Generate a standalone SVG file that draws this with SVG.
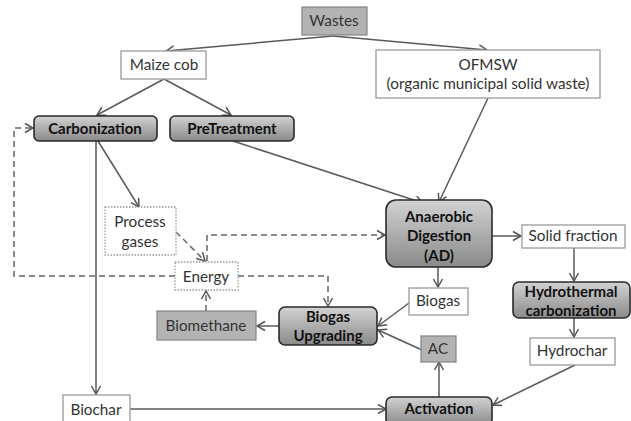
<svg xmlns="http://www.w3.org/2000/svg" width="631" height="421" viewBox="0 0 631 421">
<style>
.t{font-family:Lato,"Liberation Sans",sans-serif;font-size:15.3px;fill:#333;text-anchor:middle}
.b{font-family:Lato,"Liberation Sans",sans-serif;font-size:15px;font-weight:bold;fill:#111;text-anchor:middle}
.w{fill:#fff;stroke:#9a9a9a;stroke-width:1.3}
.g{fill:#b3b3b3;stroke:#8a8a8a;stroke-width:1.3}
.d{fill:#fff;stroke:#9a9a9a;stroke-width:1.3;stroke-dasharray:1.5 1.5}
.p{fill:url(#grad);stroke:#2a2a2a;stroke-width:1.6}
.c{fill:none;stroke:#5a5a5a;stroke-width:1.5}
.dc{fill:none;stroke:#666;stroke-width:1.5;stroke-dasharray:6 4}
</style>
<defs>
<linearGradient id="grad" x1="0" y1="0" x2="0" y2="1">
<stop offset="0" stop-color="#d2d2d2"/>
<stop offset="1" stop-color="#8a8a8a"/>
</linearGradient>
<marker id="a" markerUnits="userSpaceOnUse" markerWidth="12" markerHeight="12" viewBox="0 0 12 12" refX="10" refY="6" orient="auto">
<path d="M2,1.5 L10,6 L2,10.5" fill="none" stroke="#555" stroke-width="1.5"/>
</marker>
</defs>
<g id="connectors">
<path class="c" d="M333,36 L166,51" marker-end="url(#a)"/>
<path class="c" d="M333,36 L487,50" marker-end="url(#a)"/>
<path class="c" d="M164,79 L97,115" marker-end="url(#a)"/>
<path class="c" d="M164,79 L231,115" marker-end="url(#a)"/>
<path class="c" d="M233,141 L423,203" marker-end="url(#a)"/>
<path class="c" d="M488,98 L439,202" marker-end="url(#a)"/>
<path class="c" d="M98,141 L139,207" marker-end="url(#a)"/>
<path class="c" d="M96,141 L96,394" marker-end="url(#a)"/>
<path class="dc" d="M176,232 L205,261" marker-end="url(#a)"/>
<path class="dc" d="M207,261 L207,235 L385,235" marker-end="url(#a)"/>
<path class="dc" d="M175,276 L14,276 L14,128 L33,128" marker-end="url(#a)"/>
<path class="dc" d="M238,276 L328,276 L328,306" marker-end="url(#a)"/>
<path class="dc" d="M206,311 L206,291" marker-end="url(#a)"/>
<path class="c" d="M279,326 L257,326" marker-end="url(#a)"/>
<path class="c" d="M438,267 L438,287" marker-end="url(#a)"/>
<path class="c" d="M409,303 L378,326" marker-end="url(#a)"/>
<path class="c" d="M422,350 L378,330" marker-end="url(#a)"/>
<path class="c" d="M439,397 L439,362" marker-end="url(#a)"/>
<path class="c" d="M575,365 L493,405" marker-end="url(#a)"/>
<path class="c" d="M130,409 L386,409" marker-end="url(#a)"/>
<path class="c" d="M492,236 L521,236" marker-end="url(#a)"/>
<path class="c" d="M574,248 L574,281" marker-end="url(#a)"/>
<path class="c" d="M574,318 L574,337" marker-end="url(#a)"/>
</g>
<g id="wastes"><rect class="g" x="302" y="7" width="65" height="28"/><text class="t" x="334" y="26">Wastes</text></g>
<g id="maize"><rect class="w" x="121" y="51" width="85" height="28"/><text class="t" x="164" y="70">Maize cob</text></g>
<g id="ofmsw"><rect class="w" x="376" y="50" width="224" height="48"/><text class="t" x="488" y="70">OFMSW</text><text class="t" x="488" y="89">(organic municipal solid waste)</text></g>
<g id="carbonization"><rect class="p" x="34" y="116" width="123" height="25" rx="5"/><text class="b" x="95" y="134">Carbonization</text></g>
<g id="pretreatment"><rect class="p" x="170" y="116" width="124" height="25" rx="5"/><text class="b" x="232" y="134">PreTreatment</text></g>
<g id="processgases"><rect class="d" x="105" y="207" width="71" height="48"/><text class="t" x="140" y="227">Process</text><text class="t" x="140" y="247">gases</text></g>
<g id="energy"><rect class="d" x="175" y="262" width="63" height="28"/><text class="t" x="206" y="282">Energy</text></g>
<g id="biomethane"><rect class="g" x="157" y="311" width="99" height="29"/><text class="t" x="206" y="331">Biomethane</text></g>
<g id="upgrading"><rect class="p" x="279" y="307" width="98" height="38" rx="6"/><text class="b" x="328" y="322">Biogas</text><text class="b" x="328" y="341">Upgrading</text></g>
<g id="ad"><rect class="p" x="386" y="200" width="106" height="67" rx="10"/><text class="b" x="439" y="222">Anaerobic</text><text class="b" x="439" y="241">Digestion</text><text class="b" x="439" y="261">(AD)</text></g>
<g id="solid"><rect class="w" x="522" y="225" width="103" height="23"/><text class="t" x="573" y="241">Solid fraction</text></g>
<g id="htc"><rect class="p" x="513" y="282" width="117" height="36" rx="6"/><text class="b" x="571" y="297">Hydrothermal</text><text class="b" x="571" y="316">carbonization</text></g>
<g id="hydrochar"><rect class="w" x="530" y="338" width="85" height="27"/><text class="t" x="572" y="356">Hydrochar</text></g>
<g id="biogas"><rect class="w" x="409" y="288" width="59" height="27"/><text class="t" x="438" y="306">Biogas</text></g>
<g id="ac"><rect class="g" x="421" y="336" width="35" height="26"/><text class="t" x="438" y="354">AC</text></g>
<g id="activation"><rect class="p" x="386" y="397" width="106" height="28" rx="6"/><text class="b" x="439" y="414">Activation</text></g>
<g id="biochar"><rect class="w" x="63" y="395" width="67" height="30"/><text class="t" x="96" y="415">Biochar</text></g>
</svg>
